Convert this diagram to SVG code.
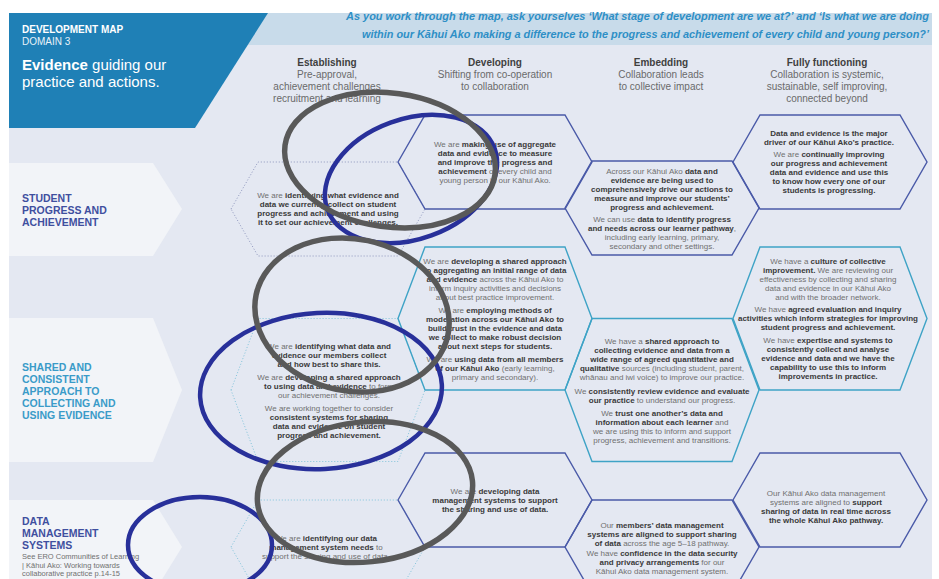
<svg xmlns="http://www.w3.org/2000/svg" width="939" height="579" viewBox="0 0 939 579">
  <style>
    .t { font-family: "Liberation Sans", Arial, sans-serif; font-size: 8px; text-anchor: middle; fill: #707070; }
    .b { font-weight: bold; fill: #3a3a3a; }
    .colh { font-family: "Liberation Sans", Arial, sans-serif; font-size: 10px; text-anchor: middle; fill: #6a6a6a; }
    .colh .ttl { font-weight: bold; fill: #404040; }
    .lbl { font-family: "Liberation Sans", Arial, sans-serif; font-size: 10.5px; font-weight: bold; }
    .hex-ind { fill: none; stroke: #4a5aa8; stroke-width: 1.4; }
    .hex-teal { fill: none; stroke: #3ea3c6; stroke-width: 1.4; }
    .hex-dot-ind { fill: none; stroke: #8e96bd; stroke-width: 1; stroke-dasharray: 1 2; }
    .hex-dot-teal { fill: none; stroke: #80c3da; stroke-width: 1; stroke-dasharray: 1 2; }
    .row { fill: #f2f4f8; }
    .mark-grey { fill: none; stroke: #595959; stroke-width: 5.5; }
    .mark-blue { fill: none; stroke: #28309a; stroke-width: 4.5; }
  </style>

  <!-- page -->
  <rect x="0" y="0" width="939" height="579" fill="#ffffff"/>
  <rect x="9" y="13" width="923" height="566" fill="#e4e8f2"/>
  <rect x="200" y="13" width="732" height="32" fill="#c8dbea"/>

  <!-- title panel -->
  <g id="title">
    <polygon points="9,13 268,13 195,128 9,128" fill="#1f80b6"/>
    <text x="22" y="33" font-family="Liberation Sans, Arial, sans-serif" font-size="10" font-weight="bold" fill="#ffffff">DEVELOPMENT MAP</text>
    <text x="22" y="45" font-family="Liberation Sans, Arial, sans-serif" font-size="10" fill="#e8f2f9">DOMAIN 3</text>
    <text x="22" y="70" font-family="Liberation Sans, Arial, sans-serif" font-size="15" fill="#ffffff"><tspan font-weight="bold">Evidence</tspan> guiding our</text>
    <text x="22" y="87" font-family="Liberation Sans, Arial, sans-serif" font-size="15" fill="#ffffff">practice and actions.</text>
  </g>

  <g id="prompt" font-family="Liberation Sans, Arial, sans-serif" font-size="10.6" font-weight="bold" font-style="italic" fill="#2e8fc6">
    <text x="346" y="20" textLength="583" lengthAdjust="spacingAndGlyphs">As you work through the map, ask yourselves ‘What stage of development are we at?’ and ‘Is what we are doing</text>
    <text x="362" y="38" textLength="567" lengthAdjust="spacingAndGlyphs">within our Kāhui Ako making a difference to the progress and achievement of every child and young person?’</text>
  </g>

  <!-- stage headings -->
  <g id="stage-establishing" class="colh">
    <text x="327" y="66" class="ttl">Establishing</text>
    <text x="327" y="78">Pre-approval,</text>
    <text x="327" y="90">achievement challenges</text>
    <text x="327" y="102">recruitment and learning</text>
  </g>
  <g id="stage-developing" class="colh">
    <text x="495" y="66" class="ttl">Developing</text>
    <text x="495" y="78">Shifting from co-operation</text>
    <text x="495" y="90">to collaboration</text>
  </g>
  <g id="stage-embedding" class="colh">
    <text x="661" y="66" class="ttl">Embedding</text>
    <text x="661" y="78">Collaboration leads</text>
    <text x="661" y="90">to collective impact</text>
  </g>
  <g id="stage-fully-functioning" class="colh">
    <text x="827" y="66" class="ttl">Fully functioning</text>
    <text x="827" y="78">Collaboration is systemic,</text>
    <text x="827" y="90">sustainable, self improving,</text>
    <text x="827" y="102">connected beyond</text>
  </g>

  <!-- row labels -->
  <g id="row-student-progress">
    <polygon class="row" points="9,163 153,163 182,209 153,256 9,256"/>
    <text class="lbl" fill="#3f4f9f" x="22" y="202">STUDENT</text>
    <text class="lbl" fill="#3f4f9f" x="22" y="214">PROGRESS AND</text>
    <text class="lbl" fill="#3f4f9f" x="22" y="226">ACHIEVEMENT</text>
  </g>
  <g id="row-shared-approach">
    <polygon class="row" points="9,318 153,318 182,390 153,462 9,462"/>
    <text class="lbl" fill="#3a9bc8" x="22" y="371">SHARED AND</text>
    <text class="lbl" fill="#3a9bc8" x="22" y="383">CONSISTENT</text>
    <text class="lbl" fill="#3a9bc8" x="22" y="395">APPROACH TO</text>
    <text class="lbl" fill="#3a9bc8" x="22" y="407">COLLECTING AND</text>
    <text class="lbl" fill="#3a9bc8" x="22" y="419">USING EVIDENCE</text>
  </g>
  <g id="row-data-systems">
    <polygon class="row" points="9,500 153,500 182,547 153,594 9,594"/>
    <text class="lbl" fill="#3f4f9f" x="22" y="525">DATA</text>
    <text class="lbl" fill="#3f4f9f" x="22" y="537">MANAGEMENT</text>
    <text class="lbl" fill="#3f4f9f" x="22" y="549">SYSTEMS</text>
    <g font-family="Liberation Sans, Arial, sans-serif" font-size="7.5" fill="#707070">
      <text x="22" y="559">See ERO Communities of Learning</text>
      <text x="22" y="567.5">| Kāhui Ako: Working towards</text>
      <text x="22" y="576">collaborative practice p.14-15</text>
    </g>
  </g>

  <!-- row 1: student progress and achievement -->
  <g id="sp-establishing">
    <polygon class="hex-dot-ind" points="231,209 258,162 398,162 425,209 398,256 258,256"/>
    <text class="t" x="328" y="198">We are <tspan class="b">identifying what evidence and</tspan></text>
    <text class="t" x="328" y="207"><tspan class="b">data we currently collect on student</tspan></text>
    <text class="t" x="328" y="216"><tspan class="b">progress and achievement and using</tspan></text>
    <text class="t" x="328" y="225"><tspan class="b">it to set our achievement challenges.</tspan></text>
  </g>
  <g id="sp-developing">
    <polygon class="hex-ind" points="398,162 425,115 565,115 592,162 565,209 425,209"/>
    <text class="t" x="495" y="147">We are <tspan class="b">making use of aggregate</tspan></text>
    <text class="t" x="495" y="156"><tspan class="b">data and evidence to measure</tspan></text>
    <text class="t" x="495" y="165"><tspan class="b">and improve the progress and</tspan></text>
    <text class="t" x="495" y="174"><tspan class="b">achievement</tspan> of every child and</text>
    <text class="t" x="495" y="183">young person in our Kāhui Ako.</text>
  </g>
  <g id="sp-embedding">
    <polygon class="hex-ind" points="565,208 592,161 732,161 759,208 732,255 592,255"/>
    <text class="t" x="662" y="174">Across our Kāhui Ako <tspan class="b">data and</tspan></text>
    <text class="t" x="662" y="183"><tspan class="b">evidence are being used to</tspan></text>
    <text class="t" x="662" y="192"><tspan class="b">comprehensively drive our actions to</tspan></text>
    <text class="t" x="662" y="201"><tspan class="b">measure and improve our students’</tspan></text>
    <text class="t" x="662" y="210"><tspan class="b">progress and achievement.</tspan></text>
    <text class="t" x="662" y="222">We can use <tspan class="b">data to identify progress</tspan></text>
    <text class="t" x="662" y="231"><tspan class="b">and needs across our learner pathway</tspan>,</text>
    <text class="t" x="662" y="240">including early learning, primary,</text>
    <text class="t" x="662" y="249">secondary and other settings.</text>
  </g>
  <g id="sp-fully-functioning">
    <polygon class="hex-ind" points="733,162 760,115 900,115 927,162 900,209 760,209"/>
    <text class="t" x="829" y="136"><tspan class="b">Data and evidence is the major</tspan></text>
    <text class="t" x="829" y="145"><tspan class="b">driver of our Kāhui Ako’s practice.</tspan></text>
    <text class="t" x="829" y="157">We are <tspan class="b">continually improving</tspan></text>
    <text class="t" x="829" y="166"><tspan class="b">our progress and achievement</tspan></text>
    <text class="t" x="829" y="175"><tspan class="b">data and evidence and use this</tspan></text>
    <text class="t" x="829" y="184"><tspan class="b">to know how every one of our</tspan></text>
    <text class="t" x="829" y="193"><tspan class="b">students is progressing.</tspan></text>
  </g>

  <!-- row 2: shared and consistent approach -->
  <g id="sa-establishing">
    <polygon class="hex-dot-teal" points="231,390 258,318.5 398,318.5 425,390 398,461.5 258,461.5"/>
    <text class="t" x="329" y="349">We are <tspan class="b">identifying what data and</tspan></text>
    <text class="t" x="329" y="358"><tspan class="b">evidence our members collect</tspan></text>
    <text class="t" x="329" y="367"><tspan class="b">and how best to share this.</tspan></text>
    <text class="t" x="329" y="380">We are <tspan class="b">developing a shared approach</tspan></text>
    <text class="t" x="329" y="389"><tspan class="b">to using data and evidence</tspan> to form</text>
    <text class="t" x="329" y="398">our achievement challenges.</text>
    <text class="t" x="329" y="411">We are working together to consider</text>
    <text class="t" x="329" y="420"><tspan class="b">consistent systems for sharing</tspan></text>
    <text class="t" x="329" y="429"><tspan class="b">data and evidence on student</tspan></text>
    <text class="t" x="329" y="438"><tspan class="b">progress and achievement.</tspan></text>
  </g>
  <g id="sa-developing">
    <polygon class="hex-teal" points="398,318.5 425,247 565,247 592,318.5 565,390 425,390"/>
    <text class="t" x="495" y="264">We are <tspan class="b">developing a shared approach</tspan></text>
    <text class="t" x="495" y="273"><tspan class="b">to aggregating an initial range of data</tspan></text>
    <text class="t" x="495" y="282"><tspan class="b">and evidence</tspan> across the Kāhui Ako to</text>
    <text class="t" x="495" y="291">inform inquiry activities and decisions</text>
    <text class="t" x="495" y="300">about best practice improvement.</text>
    <text class="t" x="495" y="313">We are <tspan class="b">employing methods of</tspan></text>
    <text class="t" x="495" y="322"><tspan class="b">moderation across our Kāhui Ako to</tspan></text>
    <text class="t" x="495" y="331"><tspan class="b">build trust in the evidence and data</tspan></text>
    <text class="t" x="495" y="340"><tspan class="b">we collect to make robust decision</tspan></text>
    <text class="t" x="495" y="349"><tspan class="b">about next steps for students.</tspan></text>
    <text class="t" x="495" y="362">We are <tspan class="b">using data from all members</tspan></text>
    <text class="t" x="495" y="371"><tspan class="b">of our Kāhui Ako</tspan> (early learning,</text>
    <text class="t" x="495" y="380">primary and secondary).</text>
  </g>
  <g id="sa-embedding">
    <polygon class="hex-teal" points="565,390 592,318.5 732,318.5 759,390 732,461.5 592,461.5"/>
    <text class="t" x="662" y="344">We have a <tspan class="b">shared approach to</tspan></text>
    <text class="t" x="662" y="353"><tspan class="b">collecting evidence and data from a</tspan></text>
    <text class="t" x="662" y="362"><tspan class="b">wide range of agreed quantitative and</tspan></text>
    <text class="t" x="662" y="371"><tspan class="b">qualitative</tspan> sources (including student, parent,</text>
    <text class="t" x="662" y="380">whānau and iwi voice) to improve our practice.</text>
    <text class="t" x="662" y="394">We <tspan class="b">consistently review evidence and evaluate</tspan></text>
    <text class="t" x="662" y="403"><tspan class="b">our practice</tspan> to understand our progress.</text>
    <text class="t" x="662" y="416">We <tspan class="b">trust one another’s data and</tspan></text>
    <text class="t" x="662" y="425"><tspan class="b">information about each learner</tspan> and</text>
    <text class="t" x="662" y="434">we are using this to inform and support</text>
    <text class="t" x="662" y="443">progress, achievement and transitions.</text>
  </g>
  <g id="sa-fully-functioning">
    <polygon class="hex-teal" points="733,318.5 760,247 900,247 927,318.5 900,390 760,390"/>
    <text class="t" x="828" y="264">We have a <tspan class="b">culture of collective</tspan></text>
    <text class="t" x="828" y="273"><tspan class="b">improvement.</tspan> We are reviewing our</text>
    <text class="t" x="828" y="282">effectiveness by collecting and sharing</text>
    <text class="t" x="828" y="291">data and evidence in our Kāhui Ako</text>
    <text class="t" x="828" y="300">and with the broader network.</text>
    <text class="t" x="828" y="312">We have <tspan class="b">agreed evaluation and inquiry</tspan></text>
    <text class="t" x="828" y="321"><tspan class="b">activities which inform strategies for improving</tspan></text>
    <text class="t" x="828" y="330"><tspan class="b">student progress and achievement.</tspan></text>
    <text class="t" x="828" y="343">We have <tspan class="b">expertise and systems to</tspan></text>
    <text class="t" x="828" y="352"><tspan class="b">consistently collect and analyse</tspan></text>
    <text class="t" x="828" y="361"><tspan class="b">evidence and data and we have the</tspan></text>
    <text class="t" x="828" y="370"><tspan class="b">capability to use this to inform</tspan></text>
    <text class="t" x="828" y="379"><tspan class="b">improvements in practice.</tspan></text>
  </g>

  <!-- row 3: data management systems -->
  <g id="dm-establishing">
    <polygon class="hex-dot-teal" points="231,547 258,500 398,500 425,547 398,594 258,594"/>
    <text class="t" x="326" y="541">We are <tspan class="b">identifying our data</tspan></text>
    <text class="t" x="326" y="550"><tspan class="b">management system needs</tspan> to</text>
    <text class="t" x="326" y="559">support the sharing and use of data.</text>
  </g>
  <g id="dm-developing">
    <polygon class="hex-ind" points="398,500 425,453 565,453 592,500 565,547 425,547"/>
    <text class="t" x="495" y="494">We are <tspan class="b">developing data</tspan></text>
    <text class="t" x="495" y="503"><tspan class="b">management systems to support</tspan></text>
    <text class="t" x="495" y="512"><tspan class="b">the sharing and use of data.</tspan></text>
  </g>
  <g id="dm-embedding">
    <polygon class="hex-ind" points="565,547 592,500 732,500 759,547 732,594 592,594"/>
    <text class="t" x="662" y="528">Our <tspan class="b">members’ data management</tspan></text>
    <text class="t" x="662" y="537"><tspan class="b">systems are aligned to support sharing</tspan></text>
    <text class="t" x="662" y="546"><tspan class="b">of data</tspan> across the age 5–18 pathway.</text>
    <text class="t" x="662" y="556">We have <tspan class="b">confidence in the data security</tspan></text>
    <text class="t" x="662" y="565"><tspan class="b">and privacy arrangements</tspan> for our</text>
    <text class="t" x="662" y="574">Kāhui Ako data management system.</text>
  </g>
  <g id="dm-fully-functioning">
    <polygon class="hex-ind" points="733,500 760,453 900,453 927,500 900,547 760,547"/>
    <text class="t" x="826" y="496">Our Kāhui Ako data management</text>
    <text class="t" x="826" y="505">systems are aligned to <tspan class="b">support</tspan></text>
    <text class="t" x="826" y="514"><tspan class="b">sharing of data in real time across</tspan></text>
    <text class="t" x="826" y="523"><tspan class="b">the whole Kāhui Ako pathway.</tspan></text>
  </g>

  <!-- hand-drawn marks over the establishing column -->
  <g id="marks">
    <ellipse class="mark-blue" cx="411" cy="179" rx="89" ry="60" transform="rotate(-20 411 179)"/>
    <ellipse class="mark-blue" cx="321" cy="391" rx="121" ry="78" transform="rotate(-3 321 391)"/>
    <ellipse class="mark-blue" cx="200" cy="545" rx="72" ry="48"/>
    <ellipse class="mark-grey" cx="390" cy="160" rx="106" ry="67" transform="rotate(8 390 160)"/>
    <ellipse class="mark-grey" cx="352" cy="315" rx="98" ry="76" transform="rotate(12 352 315)"/>
    <ellipse class="mark-grey" cx="365" cy="492" rx="108" ry="70" transform="rotate(-6 365 492)"/>
  </g>
</svg>
